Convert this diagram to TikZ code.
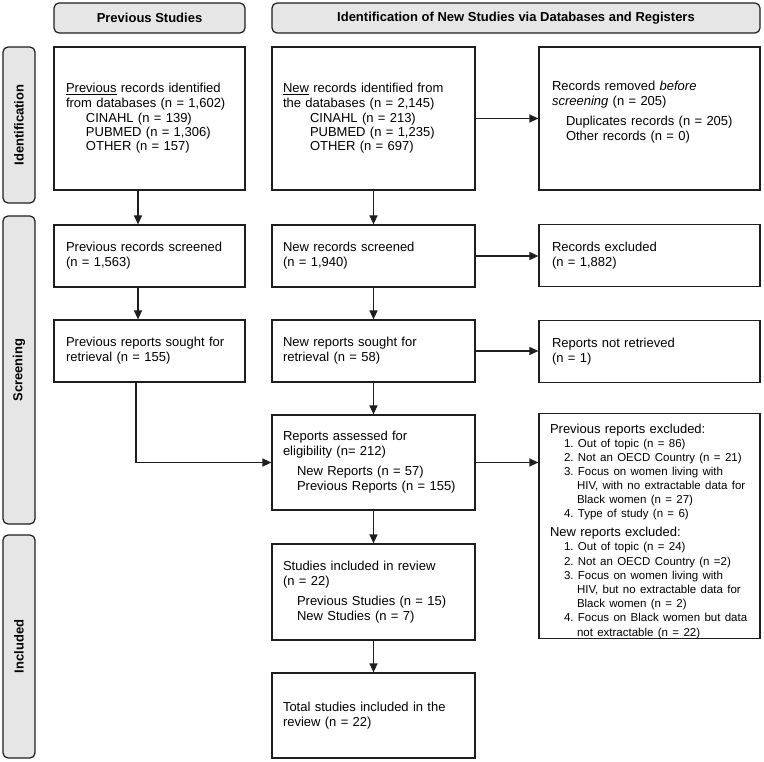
\documentclass[tikz,border=0pt]{standalone}
\usepackage{fontspec}
\setmainfont{Liberation Sans}
\usetikzlibrary{positioning,calc,arrows.meta}
\definecolor{hgray}{HTML}{E6E6E6}
\definecolor{lgray}{HTML}{1E1E1E}
\tikzstyle{l1}=[line width=1.2, draw=lgray]
\tikzstyle{box}=[rectangle, l1, align=left, inner xsep=12pt, inner ysep=0pt, font=\fontsize{13}{15}\selectfont]
\tikzstyle{head}=[rectangle, rounded corners=5pt, l1, fill=hgray, inner sep=0pt, font=\bfseries\fontsize{13}{15}\selectfont]
\tikzstyle{side}=[head, rotate=90, minimum height=32pt]
\tikzstyle{arr}=[l1, -{Triangle[length=9pt, width=8pt]}]
\newcommand{\sm}{\fontsize{11.5}{14.1}\selectfont}
\newcommand{\bg}{\fontsize{13}{15}\selectfont}
\frenchspacing

\begin{document}
\begin{tikzpicture}[x=1pt, y=-1pt]
    \useasboundingbox (0,0) rectangle (764,762);
    % headers
    \node (hp) [head, minimum width=191pt, minimum height=30pt] at (149.5,18) {Previous Studies};
    \node (hn) [head, minimum width=488pt, minimum height=30pt] at (516,18) {Identification of New Studies via Databases and Registers};
    \node (si) [side, minimum width=156pt] at (19,125) {Identification};
    \node (ss) [side, minimum width=308pt] at (19,370) {Screening};
    \node (sc) [side, minimum width=223pt] at (19,646.5) {Included};

    % previous studies
    \node (lb1) [box, text width=167pt, minimum height=143pt] at (149.5,118.5)
      {\underline{Previous} records identified\\ from databases (n = 1,602)\\
       \hspace*{20pt}CINAHL (n = 139)\\[-1pt] \hspace*{20pt}PUBMED (n = 1,306)\\[-1pt] \hspace*{20pt}OTHER (n = 157)};
    \node (lb2) [box, text width=167pt, minimum height=62pt] at (149.5,256)
      {Previous records screened\\ (n = 1,563)};
    \node (lb3) [box, text width=167pt, minimum height=62pt] at (149.5,351)
      {Previous reports sought for\\ retrieval (n = 155)};

    % new studies
    \node (mb1) [box, text width=181pt, inner xsep=11pt, minimum height=143pt] at (373.5,118.5)
      {\underline{New} records identified from\\ the databases (n = 2,145)\\
       \hspace*{27pt}CINAHL (n = 213)\\[-1pt] \hspace*{27pt}PUBMED (n = 1,235)\\[-1pt] \hspace*{27pt}OTHER (n = 697)};
    \node (mb2) [box, text width=181pt, inner xsep=11pt, minimum height=62pt] at (373.5,256)
      {New records screened\\ (n = 1,940)};
    \node (mb3) [box, text width=181pt, inner xsep=11pt, minimum height=62pt] at (373.5,351)
      {New reports sought for\\ retrieval (n = 58)};
    \node (ma) [box, text width=181pt, inner xsep=11pt, minimum height=95pt] at (373.5,462.5)
      {Reports assessed for\\ eligibility (n= 212)\\[5pt]
       \hspace*{14pt}New Reports (n = 57)\\ \hspace*{14pt}Previous Reports (n = 155)};
    \node (mi) [box, text width=181pt, inner xsep=11pt, minimum height=96pt] at (373.5,592)
      {Studies included in review\\ (n = 22)\\[5pt]
       \hspace*{14pt}Previous Studies (n = 15)\\ \hspace*{14pt}New Studies (n = 7)};
    \node (mt) [box, text width=181pt, inner xsep=11pt, minimum height=85pt] at (373.5,715.5)
      {Total studies included in the\\ review (n = 22)};

    % removed / excluded
    \node (rb1) [box, text width=195pt, inner xsep=13pt, minimum height=143pt] at (649.5,118.5)
      {Records removed \textit{before}\\ \textit{screening} (n = 205)\\[5pt]
       \hspace*{14pt}Duplicates records (n = 205)\\ \hspace*{14pt}Other records (n = 0)\\ \mbox{}};
    \node (rb2) [box, text width=195pt, inner xsep=13pt, minimum height=62pt] at (649.5,255.5)
      {Records excluded\\ (n = 1,882)};
    \node (rb3) [box, text width=195pt, inner xsep=13pt, minimum height=62pt] at (649.5,351.5)
      {Reports not retrieved\\ (n = 1)};
    \node (rx) [box, text width=199pt, inner xsep=11pt, minimum height=222pt] at (649.5,526)
      {\mbox{}\\[5pt]
       \bg Previous reports excluded:\\
       \sm\hspace*{14pt}1. Out of topic (n = 86)\\
       \sm\hspace*{14pt}2. Not an OECD Country (n = 21)\\
       \sm\hspace*{14pt}3. Focus on women living with\\
       \sm\hspace*{27pt}HIV, with no extractable data for\\
       \sm\hspace*{27pt}Black women (n = 27)\\
       \sm\hspace*{14pt}4. Type of study (n = 6)\\[4pt]
       \bg New reports excluded:\\
       \sm\hspace*{14pt}1. Out of topic (n = 24)\\
       \sm\hspace*{14pt}2. Not an OECD Country (n =2)\\
       \sm\hspace*{14pt}3. Focus on women living with\\
       \sm\hspace*{27pt}HIV, but no extractable data for\\
       \sm\hspace*{27pt}Black women (n = 2)\\
       \sm\hspace*{14pt}4. Focus on Black women but data\\
       \sm\hspace*{27pt}not extractable (n = 22)};

    \draw[arr] ([xshift=-11.5pt]lb1.south) -- ([xshift=-11.5pt]lb2.north);
    \draw[arr] ([xshift=-11.5pt]lb2.south) -- ([xshift=-11.5pt]lb3.north);
    \draw[arr] ([xshift=-13.5pt]lb3.south) |- (ma.west);
    \draw[arr] (mb1) -- (mb2);
    \draw[arr] (mb2) -- (mb3);
    \draw[arr] (mb3) -- (ma);
    \draw[arr] (ma) -- (mi);
    \draw[arr] (mi) -- (mt);
    \draw[arr] (mb1) -- (rb1);
    \draw[arr] (mb2.east) -- (mb2.east -| rb2.west);
    \draw[arr] (mb3.east) -- (mb3.east -| rb3.west);
    \draw[arr] (ma.east) -- (ma.east -| rx.west);
\end{tikzpicture}
\end{document}
